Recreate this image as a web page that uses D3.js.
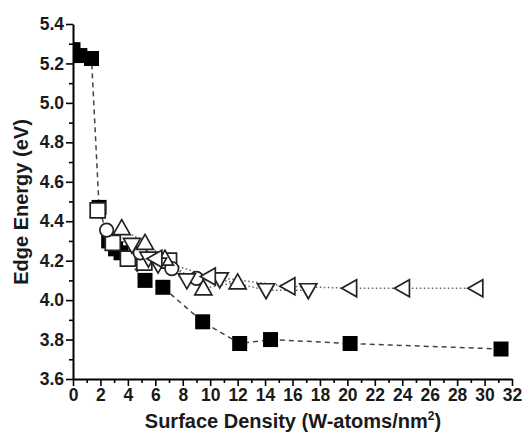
<!DOCTYPE html>
<html>
<head>
    <title>Edge energy vs surface density</title>
    <style type="text/css">
        body { margin: 0; background: #fff; }
        svg text {
            font-family: "Liberation Sans", Arial, sans-serif;
            font-weight: bold;
        }
        .axis path, .axis line { stroke: #000; }
        .axis path { stroke-width: 2px; }
        .axis line { stroke-width: 1.6px; }
        .axis text { font-size: 17.5px; fill: #1a1a1a; }
    </style>
</head>
<body>
<script src="https://d3js.org/d3.v7.min.js"></script>
<script type="text/javascript">

    // filled squares (dashed line)
    var filledX = [0.0, 0.5, 1.35, 1.9, 2.6, 3.1, 3.5, 5.25, 6.55, 9.45, 12.15, 14.4, 20.2, 31.2];
    var filledY = [5.27, 5.24, 5.225, 4.47, 4.30, 4.26, 4.24, 4.10, 4.065, 3.89, 3.78, 3.80, 3.78, 3.752];

    // open squares
    var squareX = [1.8, 2.9, 4.0, 5.2, 7.0];
    var squareY = [4.455, 4.29, 4.21, 4.19, 4.20];

    // open circles
    var circleX = [2.45, 4.9, 7.2, 9.0];
    var circleY = [4.355, 4.24, 4.16, 4.11];

    // up triangles
    var upX = [3.55, 5.25, 6.7, 9.5, 12.0];
    var upY = [4.365, 4.29, 4.21, 4.06, 4.09];

    // down triangles
    var downX = [4.3, 5.5, 6.2, 8.3, 10.7, 14.07, 17.15];
    var downY = [4.28, 4.21, 4.18, 4.10, 4.105, 4.05, 4.05];

    // left triangles
    var leftX = [6.0, 9.9, 15.7, 20.2, 24.05, 29.4];
    var leftY = [4.21, 4.12, 4.07, 4.06, 4.06, 4.06];

    var xTicks = d3.range(0, 33, 2);
    var yTicks = [3.6, 3.8, 4.0, 4.2, 4.4, 4.6, 4.8, 5.0, 5.2, 5.4];

    var W = 525, H = 434;
    var svg = d3.select('body').append('svg')
        .attr('width', W).attr('height', H);

    var x = d3.scaleLinear().domain([0, 32]).range([73, 512]);
    var y = d3.scaleLinear().domain([3.6, 5.4]).range([379, 24]);

    svg.append('clipPath').attr('id', 'plot')
        .append('rect')
        .attr('x', x(0)).attr('y', 0)
        .attr('width', x(32) - x(0) + 10).attr('height', y(3.6));

    function zip(xs, ys) {
        return xs.map(function (d, i) { return [d, ys[i]]; });
    }

    // minor ticks
    svg.append('g').attr('class', 'axis')
        .attr('transform', 'translate(0,' + y(3.6) + ')')
        .call(d3.axisBottom(x).tickValues(d3.range(1, 32, 2)).tickSize(4).tickFormat(''))
        .select('.domain').remove();
    svg.append('g').attr('class', 'axis')
        .attr('transform', 'translate(' + x(0) + ',0)')
        .call(d3.axisLeft(y).tickValues(d3.range(3.7, 5.4, 0.2)).tickSize(4).tickFormat(''))
        .select('.domain').remove();

    // major axes
    svg.append('g').attr('class', 'axis')
        .attr('transform', 'translate(0,' + y(3.6) + ')')
        .call(d3.axisBottom(x).tickValues(xTicks).tickSize(7).tickSizeOuter(0).tickPadding(3));
    svg.append('g').attr('class', 'axis')
        .attr('transform', 'translate(' + x(0) + ',0)')
        .call(d3.axisLeft(y).tickValues(yTicks).tickSize(7).tickSizeOuter(0).tickPadding(2)
            .tickFormat(d3.format('.1f')));

    var plot = svg.append('g').attr('clip-path', 'url(#plot)');
    var line = d3.line().x(function (d) { return x(d[0]); }).y(function (d) { return y(d[1]); });

    var hollow = [
        { pts: zip(squareX, squareY), shape: 'square' },
        { pts: zip(circleX, circleY), shape: 'circle' },
        { pts: zip(upX, upY), shape: 'up' },
        { pts: zip(downX, downY), shape: 'down' },
        { pts: zip(leftX, leftY), shape: 'left' }
    ];

    hollow.forEach(function (s) {
        plot.append('path').attr('d', line(s.pts))
            .attr('fill', 'none').attr('stroke', '#666')
            .attr('stroke-width', 1.5).attr('stroke-dasharray', '1.5,2.5');
    });

    plot.append('path').attr('d', line(zip(filledX, filledY)))
        .attr('fill', 'none').attr('stroke', '#444')
        .attr('stroke-width', 1.5).attr('stroke-dasharray', '5,4');

    function marker(shape) {
        var r = 7.5;
        if (shape === 'square') return 'M' + (-r) + ',' + (-r) + 'h' + 2 * r + 'v' + 2 * r + 'h' + (-2 * r) + 'Z';
        if (shape === 'up') return 'M0,-8.5L8.5,6.5L-8.5,6.5Z';
        if (shape === 'down') return 'M0,8.5L8.5,-6.5L-8.5,-6.5Z';
        if (shape === 'left') return 'M-8.5,0L6.5,-8.5L6.5,8.5Z';
        return null;
    }

    plot.selectAll('.filled').data(zip(filledX, filledY)).enter()
        .append('path').attr('class', 'filled')
        .attr('d', marker('square'))
        .attr('transform', function (d) { return 'translate(' + x(d[0]) + ',' + y(d[1]) + ')'; })
        .attr('fill', '#000');

    hollow.forEach(function (s) {
        var sel = plot.selectAll(null).data(s.pts).enter();
        var m;
        if (s.shape === 'circle') {
            m = sel.append('circle').attr('r', 6.8)
                .attr('cx', function (d) { return x(d[0]); })
                .attr('cy', function (d) { return y(d[1]); });
        } else {
            m = sel.append('path').attr('d', marker(s.shape))
                .attr('transform', function (d) { return 'translate(' + x(d[0]) + ',' + y(d[1]) + ')'; });
        }
        m.attr('fill', '#fff').attr('stroke', '#222').attr('stroke-width', 1.7);
    });

    // axis titles
    var xt = svg.append('text')
        .attr('x', 293).attr('y', 428)
        .attr('text-anchor', 'middle')
        .style('font-size', '20px').attr('fill', '#1a1a1a');
    xt.append('tspan').text('Surface Density (W-atoms/nm');
    xt.append('tspan').attr('dy', -8).style('font-size', '12px').text('2');
    xt.append('tspan').attr('dy', 8).text(')');

    svg.append('text')
        .attr('transform', 'translate(28,202) rotate(-90)')
        .attr('text-anchor', 'middle')
        .style('font-size', '20px').attr('fill', '#1a1a1a')
        .text('Edge Energy (eV)');

</script>
</body>
</html>
